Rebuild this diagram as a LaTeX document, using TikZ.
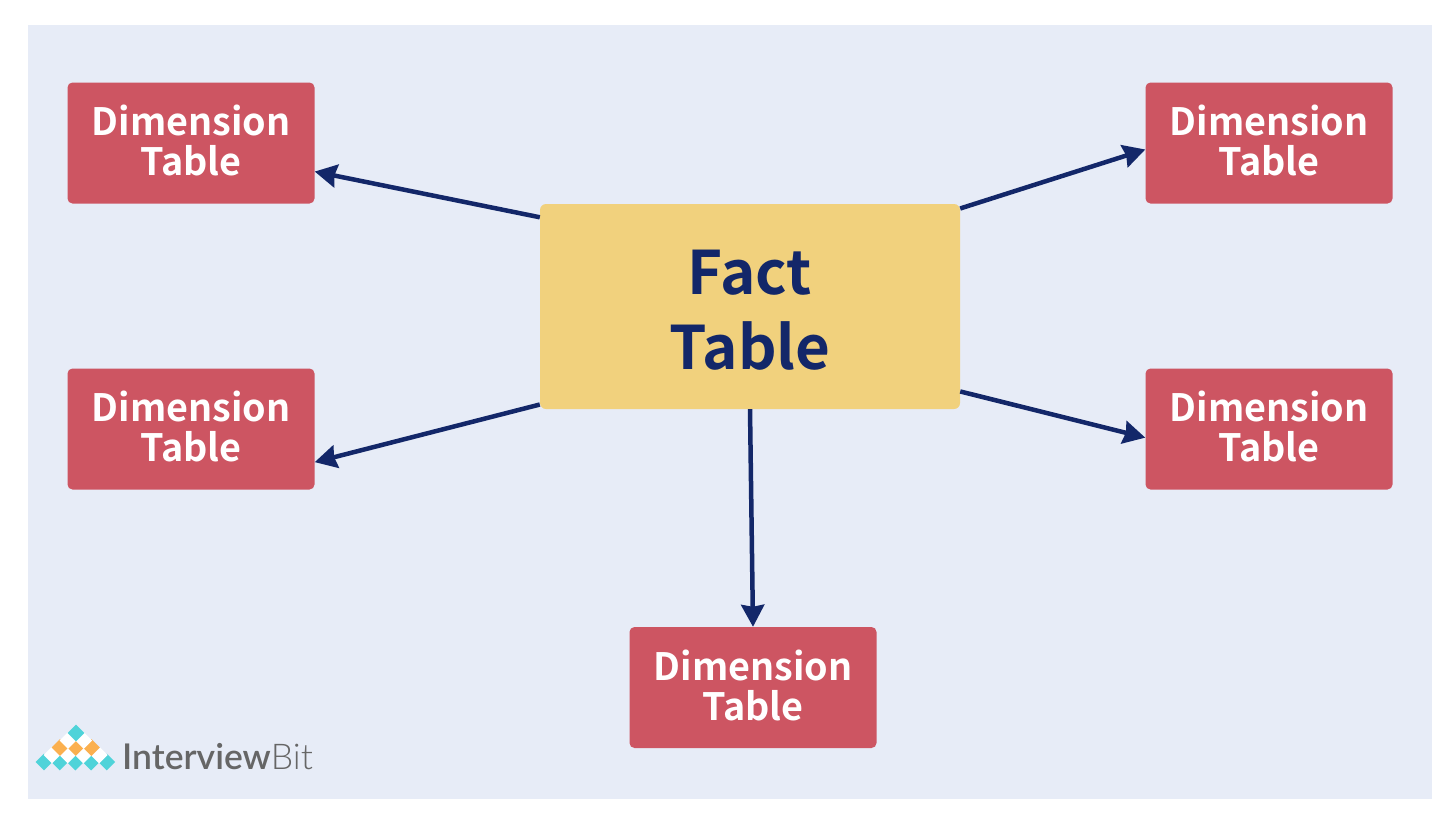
\documentclass[tikz,border=0pt]{standalone}
\usepackage{fontspec}
\setmainfont{Noto Sans CJK SC}[BoldFont={* Bold}]
\newfontfamily\logofont{Lato}[UprightFont={* Light}]
\usetikzlibrary{arrows.meta,positioning,shapes.geometric}
\definecolor{bgblue}{HTML}{E7ECF7}
\definecolor{dimred}{HTML}{CD5562}
\definecolor{factyellow}{HTML}{F1D17D}
\definecolor{navy}{HTML}{132769}
\definecolor{logoteal}{HTML}{4FD3D9}
\definecolor{logoorange}{HTML}{FBB04F}
\definecolor{logogrey}{HTML}{666666}
\begin{document}
\begin{tikzpicture}[x=1pt,y=-1pt,
    dimbox/.style={rectangle,fill=dimred,rounded corners=5pt,minimum width=247pt,minimum height=121pt,
      inner sep=0pt,align=center,text=white,text depth=5pt,font=\fontsize{37.7}{40}\selectfont\bfseries},
    factbox/.style={rectangle,fill=factyellow,rounded corners=6pt,minimum width=420pt,minimum height=205pt,
      inner sep=0pt,align=center,text=navy,font=\fontsize{60}{75}\selectfont\bfseries},
    link/.style={navy,line width=4.5pt,-{Stealth[length=22pt,width=23pt,inset=2pt]}},
    tile/.style={diamond,minimum size=17pt,inner sep=0pt}]
  \useasboundingbox (0,0) rectangle (1454,820);
  \fill[bgblue] (28,25) rectangle (1432,799);

  % fact table
  \node[factbox] (fact) at (750,306.5) {\rule{0pt}{51pt}Fact\\Table};

  % dimension tables
  \node[dimbox] (dimTL) at (191,143) {Dimension\\Table};
  \node[dimbox] (dimTR) at (1269,143) {Dimension\\Table};
  \node[dimbox] (dimML) at (191,429) {Dimension\\Table};
  \node[dimbox] (dimMR) at (1269,429) {Dimension\\Table};
  \node[dimbox] (dimB) at (753,687.5) {Dimension\\Table};

  \draw[link] (fact.157.3) -- (dimTL.-13.2);
  \draw[link] (fact.25.6) -- (dimTR.183.2);
  \draw[link] (fact.205.3) -- (dimML.-15.3);
  \draw[link] (fact.-22.7) -- (dimMR.184.2);
  \draw[link] (fact.south) -- (dimB.north);

  % logo
  \foreach \i in {0,...,4}
    \node[tile,fill=logoteal] (tb\i) at (44+15.7*\i,762) {};
  \foreach \i in {0,...,3}
    \node[tile,fill=white] (tw\i) at (52+15.7*\i,755) {};
  \foreach \i in {0,1,2}
    \node[tile,fill=logoorange] (to\i) at (60+15.7*\i,747.5) {};
  \foreach \i in {0,1}
    \node[tile,fill=white] (tu\i) at (68+15.7*\i,740.5) {};
  \node[tile,fill=logoteal] (tt) at (76,733) {};
  \node[anchor=west,inner sep=0pt,text=logogrey,font=\fontsize{35.5}{36}\logofont] (logo) at (122,757)
    {\textbf{Interview}Bit};
\end{tikzpicture}
\end{document}
